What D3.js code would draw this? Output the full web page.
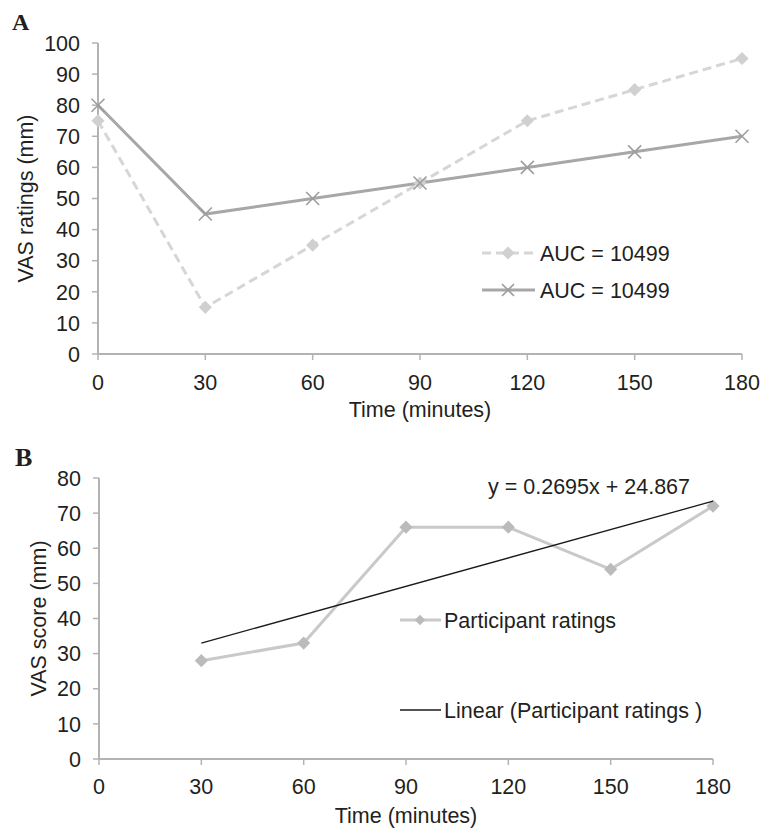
<!DOCTYPE html>
<html><head><meta charset="utf-8">
<script src="https://cdn.jsdelivr.net/npm/d3@7"></script>
<style>
body{margin:0;background:#fff;}
text{font-family:"Liberation Sans",Arial,Helvetica,sans-serif;fill:#231f20;}
</style></head>
<body>
<svg id="c" width="765" height="831"></svg>
<script>
// Panel A data
const timesA = [0, 30, 60, 90, 120, 150, 180];
const seriesA1 = [75, 15, 35, 55, 75, 85, 95];   // dashed, diamonds
const seriesA2 = [80, 45, 50, 55, 60, 65, 70];   // solid, crosses
const legendA = ["AUC = 10499", "AUC = 10499"];
const yTicksA = [0,10,20,30,40,50,60,70,80,90,100];
const xTicksA = [0,30,60,90,120,150,180];

// Panel B data
const timesB = [30, 60, 90, 120, 150, 180];
const ratingsB = [28, 33, 66, 66, 54, 72];
const trendX = [30, 180];
const trendY = [33, 73.4];
const yTicksB = [0,10,20,30,40,50,60,70,80];
const xTicksB = [0,30,60,90,120,150,180];
const equation = "y = 0.2695x + 24.867";
const legendB = ["Participant ratings", "Linear (Participant ratings )"];

const svg = d3.select("#c");
const axisColor = "#b3b3b3";
const fs = 21.5;

function drawAxes(g, x, y, xT, yT, xLabel, yLabel, xLabelY, yLabelX, tickY) {
  const [x0, x1] = x.range();
  const [y0, y1] = y.range();
  g.append("line").attr("x1", x0).attr("x2", x0).attr("y1", y0).attr("y2", y1)
    .attr("stroke", axisColor).attr("stroke-width", 2);
  g.append("line").attr("x1", x0).attr("x2", x1).attr("y1", y0).attr("y2", y0)
    .attr("stroke", axisColor).attr("stroke-width", 2);
  yT.forEach(t => {
    g.append("line").attr("x1", x0 - 6).attr("x2", x0).attr("y1", y(t)).attr("y2", y(t))
      .attr("stroke", axisColor).attr("stroke-width", 1.5);
    g.append("text").attr("x", x0 - 18).attr("y", y(t)).attr("dy", "0.36em")
      .attr("text-anchor", "end").attr("font-size", fs).text(t);
  });
  xT.forEach(t => {
    g.append("line").attr("x1", x(t)).attr("x2", x(t)).attr("y1", y0).attr("y2", y0 + 6)
      .attr("stroke", axisColor).attr("stroke-width", 1.5);
    g.append("text").attr("x", x(t)).attr("y", tickY)
      .attr("text-anchor", "middle").attr("font-size", fs).text(t);
  });
  g.append("text").attr("x", (x0 + x1) / 2).attr("y", xLabelY)
    .attr("text-anchor", "middle").attr("font-size", fs).text(xLabel);
  g.append("text").attr("transform", `translate(${yLabelX},${(y0 + y1) / 2}) rotate(-90)`)
    .attr("text-anchor", "middle").attr("font-size", fs).text(yLabel);
}

const diamond = d3.symbol().type(d3.symbolDiamond2).size(110);
function cross(g, cx, cy, s, color) {
  g.append("path").attr("d", `M${cx - s},${cy - s}L${cx + s},${cy + s}M${cx - s},${cy + s}L${cx + s},${cy - s}`)
    .attr("stroke", color).attr("stroke-width", 1.6).attr("fill", "none");
}

// ---------- Panel A ----------
const gA = svg.append("g");
const xA = d3.scaleLinear().domain([0, 180]).range([98, 742]);
const yA = d3.scaleLinear().domain([0, 100]).range([354, 43]);
drawAxes(gA, xA, yA, xTicksA, yTicksA, "Time (minutes)", "VAS ratings (mm)", 417, 33, 390);

const lineA = d3.line().x(d => xA(d[0])).y(d => yA(d[1]));
const c1 = "#d6d6d6", c2 = "#a7a7a9";
gA.append("path").datum(timesA.map((t, i) => [t, seriesA1[i]])).attr("d", lineA)
  .attr("fill", "none").attr("stroke", c1).attr("stroke-width", 3).attr("stroke-dasharray", "9,5");
gA.append("path").datum(timesA.map((t, i) => [t, seriesA2[i]])).attr("d", lineA)
  .attr("fill", "none").attr("stroke", c2).attr("stroke-width", 3);
timesA.forEach((t, i) => {
  gA.append("path").attr("d", diamond).attr("transform", `translate(${xA(t)},${yA(seriesA1[i])})`)
    .attr("fill", "#d0d0d0");
  cross(gA, xA(t), yA(seriesA2[i]), 6.5, "#9d9d9f");
});
// legend A
gA.append("line").attr("x1", 482).attr("x2", 535).attr("y1", 253).attr("y2", 253)
  .attr("stroke", c1).attr("stroke-width", 3).attr("stroke-dasharray", "9,5");
gA.append("path").attr("d", diamond).attr("transform", "translate(508,253)").attr("fill", "#d0d0d0");
gA.append("text").attr("x", 540).attr("y", 261).attr("font-size", fs).text(legendA[0]);
gA.append("line").attr("x1", 482).attr("x2", 535).attr("y1", 290).attr("y2", 290)
  .attr("stroke", c2).attr("stroke-width", 3);
cross(gA, 508, 290, 6, "#9d9d9f");
gA.append("text").attr("x", 540).attr("y", 298).attr("font-size", fs).text(legendA[1]);

gA.append("text").attr("x", 12).attr("y", 30).attr("font-size", 24).attr("font-weight", "bold")
  .style("font-family", "'Liberation Serif','Times New Roman',serif").text("A");

// ---------- Panel B ----------
const gB = svg.append("g");
const xB = d3.scaleLinear().domain([0, 180]).range([99, 713]);
const yB = d3.scaleLinear().domain([0, 80]).range([759, 478]);
drawAxes(gB, xB, yB, xTicksB, yTicksB, "Time (minutes)", "VAS score (mm)", 823, 46, 794);

const lineB = d3.line().x(d => xB(d[0])).y(d => yB(d[1]));
gB.append("path").datum(timesB.map((t, i) => [t, ratingsB[i]])).attr("d", lineB)
  .attr("fill", "none").attr("stroke", "#c9c9c9").attr("stroke-width", 3);
timesB.forEach((t, i) => {
  gB.append("path").attr("d", diamond).attr("transform", `translate(${xB(t)},${yB(ratingsB[i])})`)
    .attr("fill", "#bbbbbb");
});
gB.append("path").datum(trendX.map((t, i) => [t, trendY[i]])).attr("d", lineB)
  .attr("fill", "none").attr("stroke", "#1a1a1a").attr("stroke-width", 1.3);
gB.append("text").attr("x", 488).attr("y", 494).attr("font-size", fs).text(equation);

// legend B
gB.append("line").attr("x1", 400).attr("x2", 441).attr("y1", 620).attr("y2", 620)
  .attr("stroke", "#c9c9c9").attr("stroke-width", 3);
gB.append("path").attr("d", d3.symbol().type(d3.symbolDiamond2).size(70)).attr("transform", "translate(420,620)").attr("fill", "#bbbbbb");
gB.append("text").attr("x", 444).attr("y", 628).attr("font-size", fs).text(legendB[0]);
gB.append("line").attr("x1", 400).attr("x2", 441).attr("y1", 710).attr("y2", 710)
  .attr("stroke", "#1a1a1a").attr("stroke-width", 1.3);
gB.append("text").attr("x", 444).attr("y", 718).attr("font-size", fs).text(legendB[1]);

gB.append("text").attr("x", 15).attr("y", 466).attr("font-size", 26).attr("font-weight", "bold")
  .style("font-family", "'Liberation Serif','Times New Roman',serif").text("B");
</script>
</body></html>
